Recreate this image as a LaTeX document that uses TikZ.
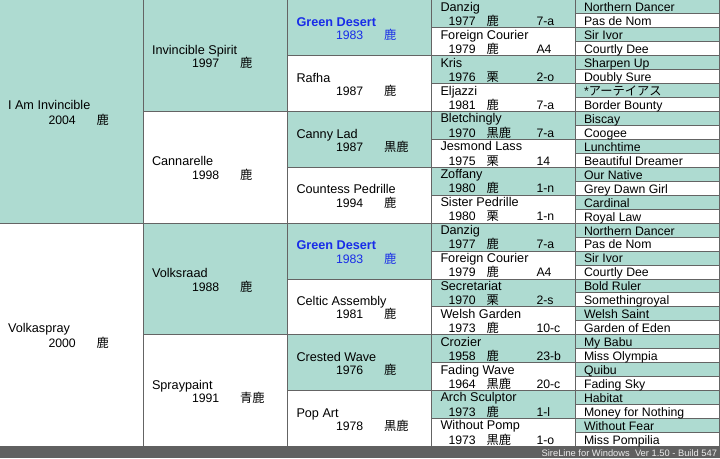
\documentclass[tikz,border=0pt]{standalone}
\usepackage{fontspec}
\setmainfont{Liberation Sans}
\newfontfamily\jp{Noto Sans CJK JP}

\definecolor{pedgreen}{RGB}{174,219,209}
\definecolor{pedline}{RGB}{100,100,100}
\definecolor{pedblue}{RGB}{24,44,232}
\definecolor{pedbar}{RGB}{96,96,96}

% year + colour (columns 1-3), year + colour + family (column 4)
\newcommand{\yrc}[2]{\makebox[36pt][l]{#1}{\jp #2}}
\newcommand{\yrf}[3]{\makebox[28.65pt][l]{#1}\makebox[37.35pt][l]{\jp #2}#3}

\tikzset{every picture/.style={line width=0.75pt}}
\tikzset{
  nm/.style={anchor=base west,inner sep=0pt,font=\fontsize{9.5}{11}\selectfont},
  yr/.style={anchor=base west,inner sep=0pt,font=\fontsize{9.2}{11}\selectfont},
  anc/.style={anchor=base west,inner sep=0pt,font=\fontsize{9.2}{11}\selectfont},
  gd/.style={nm,font=\fontsize{9.5}{11}\selectfont\bfseries,color=pedblue},
  gdyr/.style={yr,color=pedblue},
  male/.style={fill=pedgreen},
  cellline/.style={color=pedline}
}

\begin{document}
\begin{tikzpicture}[x=0.75pt,y=0.75pt,yscale=-1,xscale=1]
\useasboundingbox (0,0) rectangle (720,458);

%Shape: Rectangle (sire cells, column 1-3)
\fill [male] (0,0) rectangle (143.5,223.2);
\fill [male] (143.5,0) rectangle (287.5,111.6) (143.5,223.2) rectangle (287.5,334.8);
\fill [male] (287.5,0) rectangle (431,55.8) (287.5,111.6) rectangle (431,167.4) (287.5,223.2) rectangle (431,279) (287.5,334.8) rectangle (431,390.6);
%Shape: Rectangle (sire cells, column 4)
\fill [male] (431,0) rectangle (575.5,27.9) (431,55.8) rectangle (575.5,83.7) (431,111.6) rectangle (575.5,139.5) (431,167.4) rectangle (575.5,195.3)
  (431,223.2) rectangle (575.5,251.1) (431,279) rectangle (575.5,306.9) (431,334.8) rectangle (575.5,362.7) (431,390.6) rectangle (575.5,418.5);
%Shape: Rectangle (sire cells, column 5)
\fill [male] (575.5,0) rectangle (719,13.95) (575.5,27.9) rectangle (719,41.85) (575.5,55.8) rectangle (719,69.75) (575.5,83.7) rectangle (719,97.65)
  (575.5,111.6) rectangle (719,125.55) (575.5,139.5) rectangle (719,153.45) (575.5,167.4) rectangle (719,181.35) (575.5,195.3) rectangle (719,209.25)
  (575.5,223.2) rectangle (719,237.15) (575.5,251.1) rectangle (719,265.05) (575.5,279) rectangle (719,292.95) (575.5,306.9) rectangle (719,320.85)
  (575.5,334.8) rectangle (719,348.75) (575.5,362.7) rectangle (719,376.65) (575.5,390.6) rectangle (719,404.55) (575.5,418.5) rectangle (719,432.45);

%Straight Lines (column borders)
\draw [cellline] (143.5,0) -- (143.5,446.4) (287.5,0) -- (287.5,446.4) (431,0) -- (431,446.4) (575.5,0) -- (575.5,446.4) (719,0) -- (719,446.4) ;
%Straight Lines (row borders)
\draw [cellline] (0,223.2) -- (719,223.2) (143.5,111.6) -- (719,111.6) (143.5,334.8) -- (719,334.8) ;
\draw [cellline] (287.5,55.8) -- (719,55.8) (287.5,167.4) -- (719,167.4) (287.5,279) -- (719,279) (287.5,390.6) -- (719,390.6) ;
\draw [cellline] (431,27.9) -- (719,27.9) (431,83.7) -- (719,83.7) (431,139.5) -- (719,139.5) (431,195.3) -- (719,195.3)
  (431,251.1) -- (719,251.1) (431,306.9) -- (719,306.9) (431,362.7) -- (719,362.7) (431,418.5) -- (719,418.5) ;
\draw [cellline] (575.5,13.95) -- (719,13.95) (575.5,41.85) -- (719,41.85) (575.5,69.75) -- (719,69.75) (575.5,97.65) -- (719,97.65)
  (575.5,125.55) -- (719,125.55) (575.5,153.45) -- (719,153.45) (575.5,181.35) -- (719,181.35) (575.5,209.25) -- (719,209.25)
  (575.5,237.15) -- (719,237.15) (575.5,265.05) -- (719,265.05) (575.5,292.95) -- (719,292.95) (575.5,320.85) -- (719,320.85)
  (575.5,348.75) -- (719,348.75) (575.5,376.65) -- (719,376.65) (575.5,404.55) -- (719,404.55) (575.5,432.45) -- (719,432.45) ;

%Shape: Rectangle (status bar)
\fill [pedbar] (0,446.4) rectangle (720,458);

% Text Node (column 1)
\draw (7.5,109.6) node [nm] (c1a) {I Am Invincible};
\draw (48,124) node [yr] (c1ay) {\yrc{2004}{鹿}};
\draw (7.5,332.8) node [nm] (c1b) {Volkaspray};
\draw (48,347.2) node [yr] (c1by) {\yrc{2000}{鹿}};

% Text Node (column 2)
\draw (151.5,54.3) node [nm] (c2a) {Invincible Spirit};
\draw (191.5,67.8) node [yr] (c2ay) {\yrc{1997}{鹿}};
\draw (151.5,165.9) node [nm] (c2b) {Cannarelle};
\draw (191.5,179.4) node [yr] (c2by) {\yrc{1998}{鹿}};
\draw (151.5,277.5) node [nm] (c2c) {Volksraad};
\draw (191.5,291) node [yr] (c2cy) {\yrc{1988}{鹿}};
\draw (151.5,389.1) node [nm] (c2d) {Spraypaint};
\draw (191.5,402.6) node [yr] (c2dy) {\yrc{1991}{青鹿}};

% Text Node (column 3)
\draw (296,26.4) node [gd] (c3a) {Green Desert};
\draw (335.5,39.9) node [gdyr] (c3ay) {\yrc{1983}{鹿}};
\draw (296,82.2) node [nm] (c3b) {Rafha};
\draw (335.5,95.7) node [yr] (c3by) {\yrc{1987}{鹿}};
\draw (296,138) node [nm] (c3c) {Canny Lad};
\draw (335.5,151.5) node [yr] (c3cy) {\yrc{1987}{黒鹿}};
\draw (296,193.8) node [nm] (c3d) {Countess Pedrille};
\draw (335.5,207.3) node [yr] (c3dy) {\yrc{1994}{鹿}};
\draw (296,249.6) node [gd] (c3e) {Green Desert};
\draw (335.5,263.1) node [gdyr] (c3ey) {\yrc{1983}{鹿}};
\draw (296,305.4) node [nm] (c3f) {Celtic Assembly};
\draw (335.5,318.9) node [yr] (c3fy) {\yrc{1981}{鹿}};
\draw (296,361.2) node [nm] (c3g) {Crested Wave};
\draw (335.5,374.7) node [yr] (c3gy) {\yrc{1976}{鹿}};
\draw (296,417) node [nm] (c3h) {Pop Art};
\draw (335.5,430.5) node [yr] (c3hy) {\yrc{1978}{黒鹿}};

% Text Node (column 4)
\draw (440,11.3) node [nm] (c4a) {Danzig};
\draw (448,25.5) node [yr] (c4ay) {\yrf{1977}{鹿}{7-a}};
\draw (440,39.2) node [nm] (c4b) {Foreign Courier};
\draw (448,53.4) node [yr] (c4by) {\yrf{1979}{鹿}{A4}};
\draw (440,67.1) node [nm] (c4c) {Kris};
\draw (448,81.3) node [yr] (c4cy) {\yrf{1976}{栗}{2-o}};
\draw (440,95) node [nm] (c4d) {Eljazzi};
\draw (448,109.2) node [yr] (c4dy) {\yrf{1981}{鹿}{7-a}};
\draw (440,122.9) node [nm] (c4e) {Bletchingly};
\draw (448,137.1) node [yr] (c4ey) {\yrf{1970}{黒鹿}{7-a}};
\draw (440,150.8) node [nm] (c4f) {Jesmond Lass};
\draw (448,165) node [yr] (c4fy) {\yrf{1975}{栗}{14}};
\draw (440,178.7) node [nm] (c4g) {Zoffany};
\draw (448,192.9) node [yr] (c4gy) {\yrf{1980}{鹿}{1-n}};
\draw (440,206.6) node [nm] (c4h) {Sister Pedrille};
\draw (448,220.8) node [yr] (c4hy) {\yrf{1980}{栗}{1-n}};
\draw (440,234.5) node [nm] (c4i) {Danzig};
\draw (448,248.7) node [yr] (c4iy) {\yrf{1977}{鹿}{7-a}};
\draw (440,262.4) node [nm] (c4j) {Foreign Courier};
\draw (448,276.6) node [yr] (c4jy) {\yrf{1979}{鹿}{A4}};
\draw (440,290.3) node [nm] (c4k) {Secretariat};
\draw (448,304.5) node [yr] (c4ky) {\yrf{1970}{栗}{2-s}};
\draw (440,318.2) node [nm] (c4l) {Welsh Garden};
\draw (448,332.4) node [yr] (c4ly) {\yrf{1973}{鹿}{10-c}};
\draw (440,346.1) node [nm] (c4m) {Crozier};
\draw (448,360.3) node [yr] (c4my) {\yrf{1958}{鹿}{23-b}};
\draw (440,374) node [nm] (c4n) {Fading Wave};
\draw (448,388.2) node [yr] (c4ny) {\yrf{1964}{黒鹿}{20-c}};
\draw (440,401.9) node [nm] (c4o) {Arch Sculptor};
\draw (448,416.1) node [yr] (c4oy) {\yrf{1973}{鹿}{1-l}};
\draw (440,429.8) node [nm] (c4p) {Without Pomp};
\draw (448,444) node [yr] (c4py) {\yrf{1973}{黒鹿}{1-o}};

% Text Node (column 5)
\draw (583.5,11.8) node [anc] (c5n1) {Northern Dancer};
\draw (583.5,25.75) node [anc] (c5n2) {Pas de Nom};
\draw (583.5,39.7) node [anc] (c5n3) {Sir Ivor};
\draw (583.5,53.65) node [anc] (c5n4) {Courtly Dee};
\draw (583.5,67.6) node [anc] (c5n5) {Sharpen Up};
\draw (583.5,81.55) node [anc] (c5n6) {Doubly Sure};
\draw (583.5,95.5) node [anc] (c5n7) {*{\jp アーテイアス}};
\draw (583.5,109.45) node [anc] (c5n8) {Border Bounty};
\draw (583.5,123.4) node [anc] (c5n9) {Biscay};
\draw (583.5,137.35) node [anc] (c5n10) {Coogee};
\draw (583.5,151.3) node [anc] (c5n11) {Lunchtime};
\draw (583.5,165.25) node [anc] (c5n12) {Beautiful Dreamer};
\draw (583.5,179.2) node [anc] (c5n13) {Our Native};
\draw (583.5,193.15) node [anc] (c5n14) {Grey Dawn Girl};
\draw (583.5,207.1) node [anc] (c5n15) {Cardinal};
\draw (583.5,221.05) node [anc] (c5n16) {Royal Law};
\draw (583.5,235) node [anc] (c5n17) {Northern Dancer};
\draw (583.5,248.95) node [anc] (c5n18) {Pas de Nom};
\draw (583.5,262.9) node [anc] (c5n19) {Sir Ivor};
\draw (583.5,276.85) node [anc] (c5n20) {Courtly Dee};
\draw (583.5,290.8) node [anc] (c5n21) {Bold Ruler};
\draw (583.5,304.75) node [anc] (c5n22) {Somethingroyal};
\draw (583.5,318.7) node [anc] (c5n23) {Welsh Saint};
\draw (583.5,332.65) node [anc] (c5n24) {Garden of Eden};
\draw (583.5,346.6) node [anc] (c5n25) {My Babu};
\draw (583.5,360.55) node [anc] (c5n26) {Miss Olympia};
\draw (583.5,374.5) node [anc] (c5n27) {Quibu};
\draw (583.5,388.45) node [anc] (c5n28) {Fading Sky};
\draw (583.5,402.4) node [anc] (c5n29) {Habitat};
\draw (583.5,416.35) node [anc] (c5n30) {Money for Nothing};
\draw (583.5,430.3) node [anc] (c5n31) {Without Fear};
\draw (583.5,444.25) node [anc] (c5n32) {Miss Pompilia};

% Text Node (status bar)
\draw (717.5,456) node [anchor=base east,inner sep=0pt,font=\fontsize{7}{8}\selectfont,color=white!92!black] (bar) {SireLine for Windows\ \ Ver 1.50 - Build 547};

\end{tikzpicture}
\end{document}
